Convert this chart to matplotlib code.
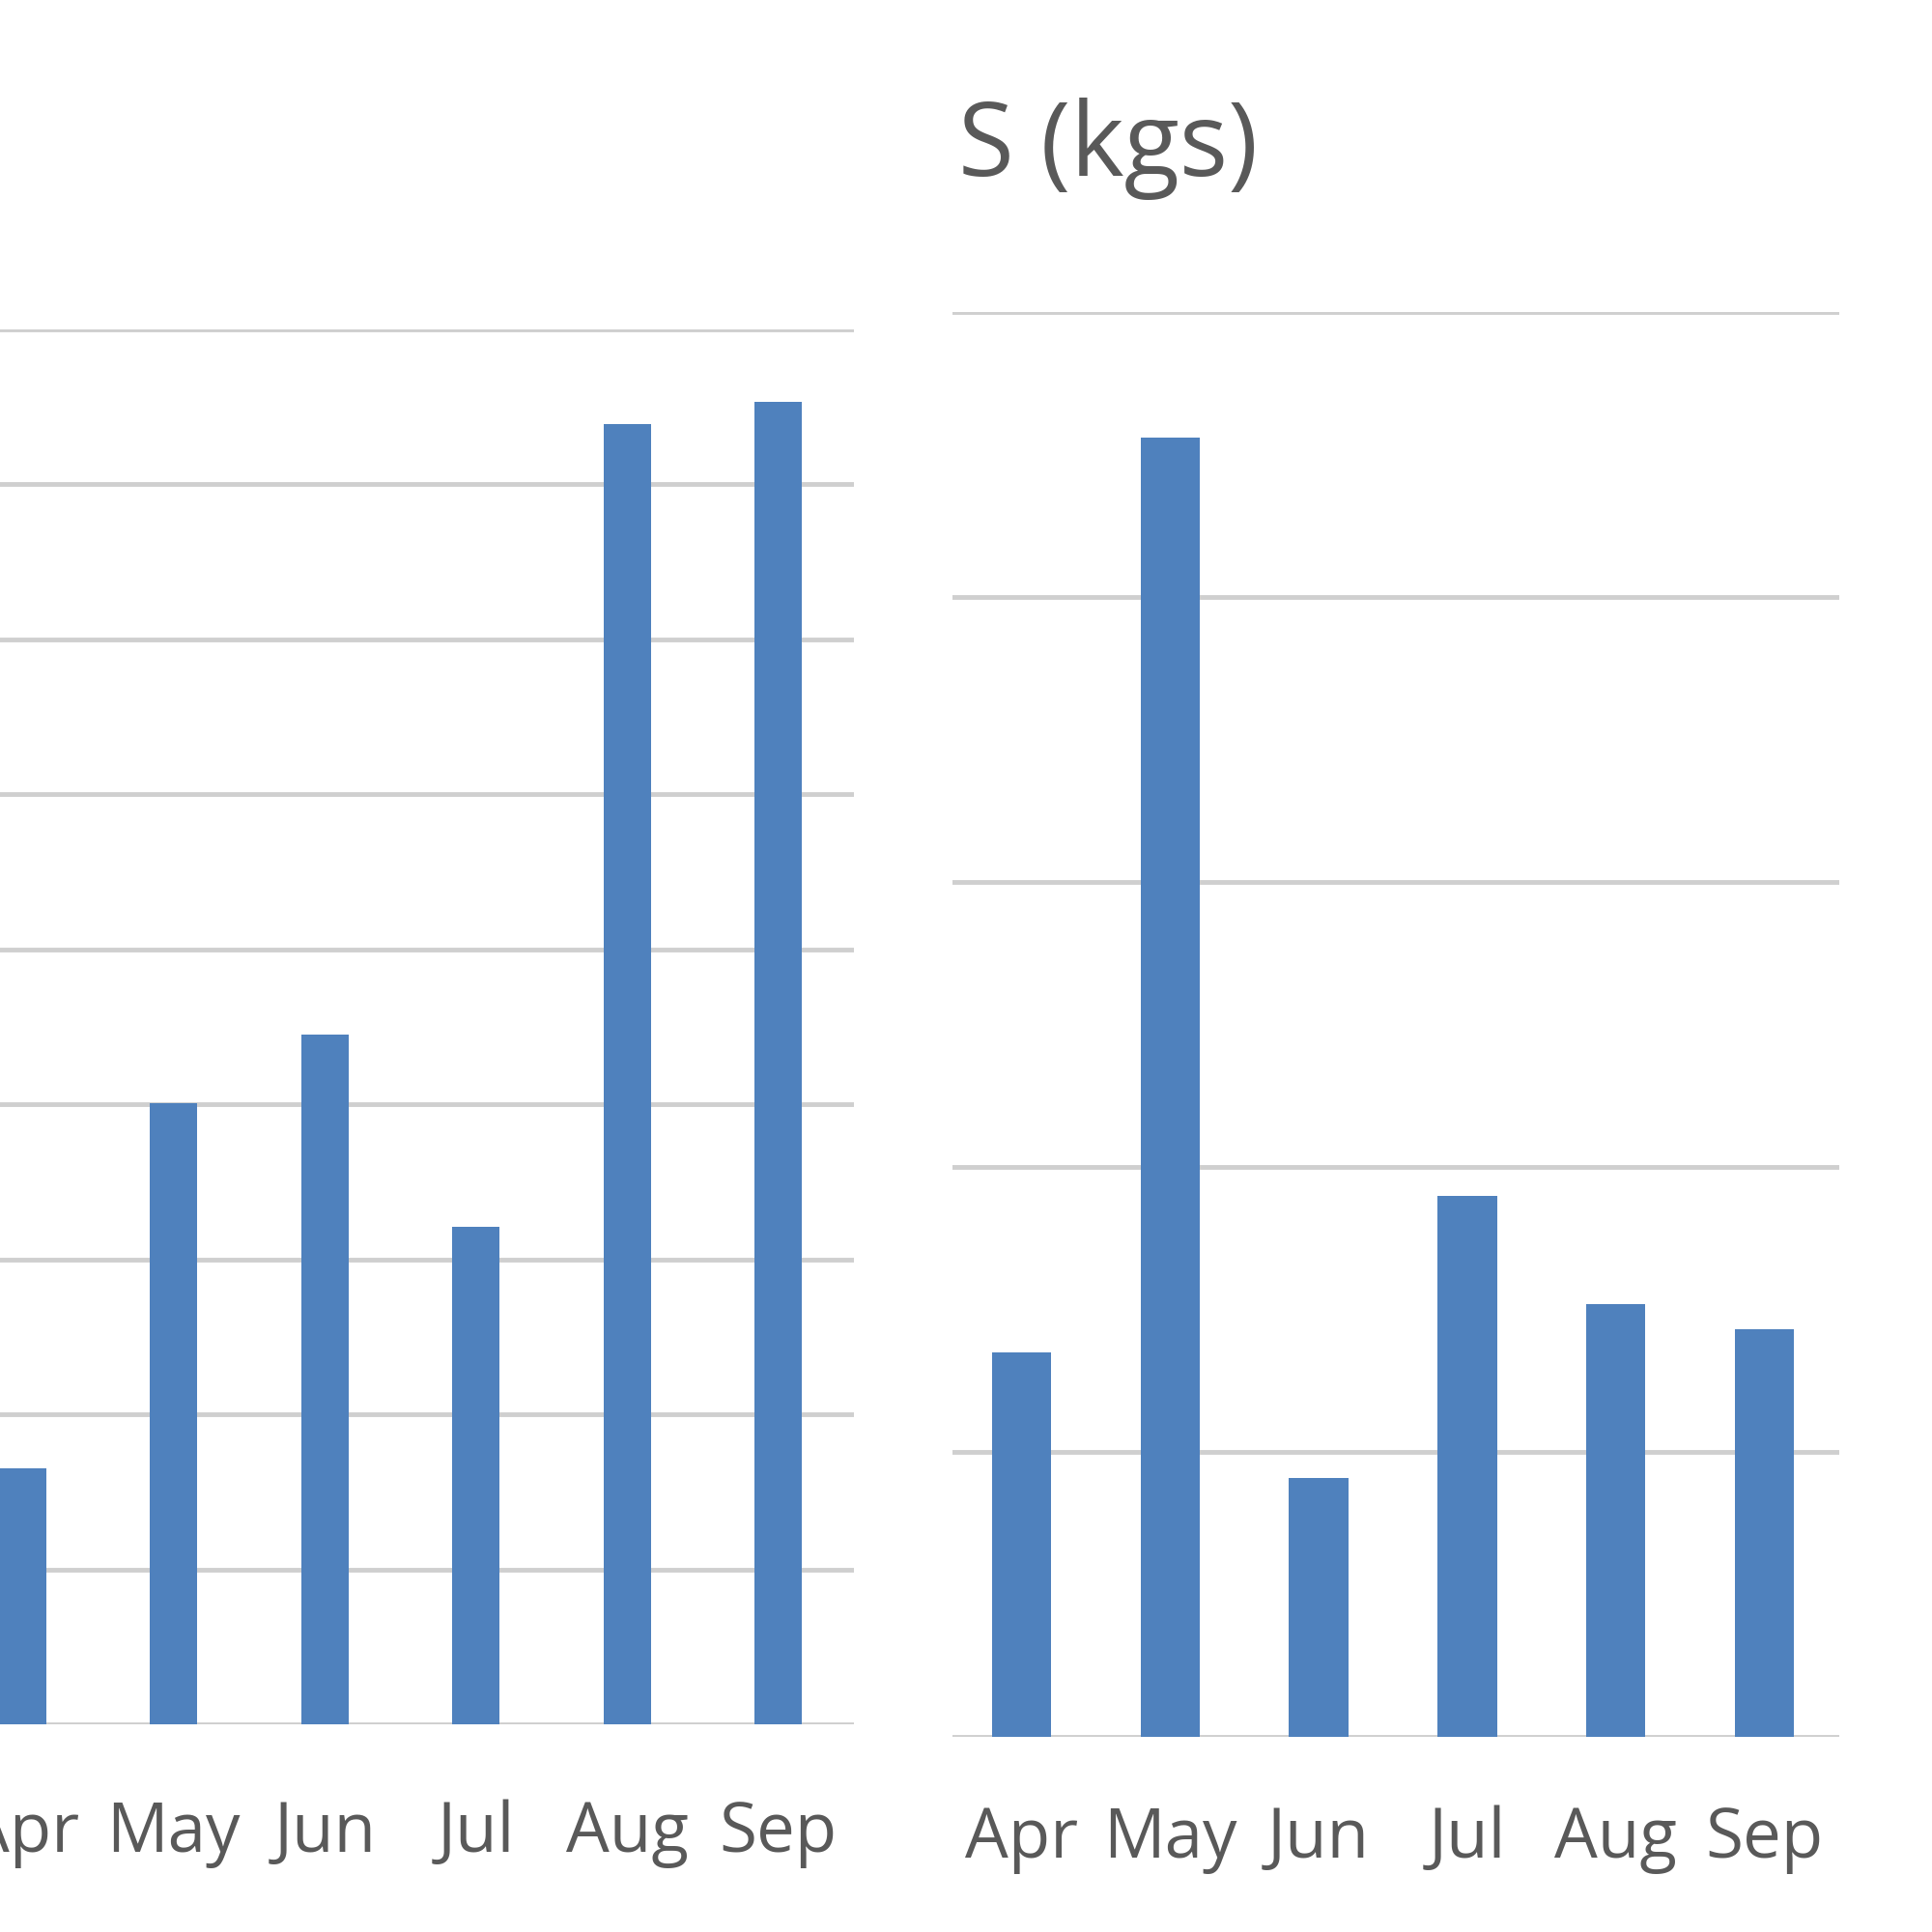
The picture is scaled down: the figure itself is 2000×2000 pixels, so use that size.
import matplotlib.pyplot as plt
from matplotlib import font_manager

months = ["Apr", "May", "Jun", "Jul", "Aug", "Sep"]
left_values = [1.65, 4.01, 4.45, 3.21, 8.39, 8.53]
right_values = [1.35, 4.56, 0.91, 1.90, 1.52, 1.43]
right_title = "S (kgs)"

BLUE = "#4F81BD"
GRID = "#CFCFCF"
TEXT = "#595959"

names = {f.name for f in font_manager.fontManager.ttflist}
font = "Liberation Sans Narrow" if "Liberation Sans Narrow" in names else "Open Sans"
plt.rcParams["font.family"] = [font, "DejaVu Sans"]

fig = plt.figure(figsize=(20, 20), dpi=100)


def draw(ax, values, ymax, width, pad, xlim):
    ax.bar(range(len(values)), values, width=width, color=BLUE, zorder=3)
    ax.set_xlim(*xlim)
    ax.set_ylim(0, ymax)
    ax.set_yticks(range(ymax + 1))
    ax.yaxis.grid(True, color=GRID, linewidth=3.5, zorder=0)
    ax.set_yticklabels([])
    ax.set_xticks(range(len(values)))
    ax.set_xticklabels(months, fontsize=51, color=TEXT)
    ax.tick_params(axis="both", length=0)
    ax.tick_params(axis="x", pad=pad)
    for s in ax.spines.values():
        s.set_visible(False)


# left chart (partly cut off at the left edge)
ax1 = fig.add_axes([-55 / 2000, 1 - 1785 / 2000, (884 + 55) / 2000, (1785 - 341) / 2000])
draw(ax1, left_values, 9, 0.31, 56, (-0.5, 5.5))

# right chart
ax2 = fig.add_axes([986 / 2000, 1 - 1798 / 2000, (1904 - 986) / 2000, (1798 - 323) / 2000])
draw(ax2, right_values, 5, 0.40, 51, (-0.465, 5.505))

fig.text(992 / 2000, 1 - 182 / 2000, right_title, fontsize=76, color=TEXT,
         ha="left", va="baseline")

fig.savefig("out.png", dpi=100, facecolor="white")
